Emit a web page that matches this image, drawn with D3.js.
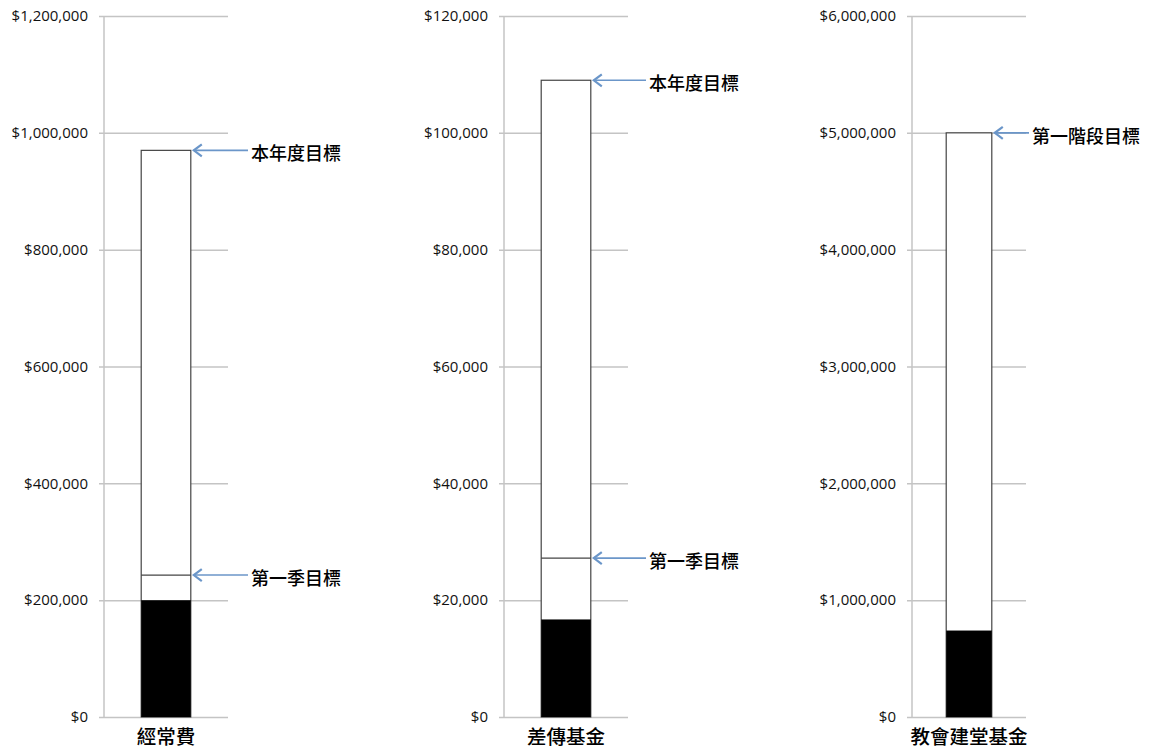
<!DOCTYPE html>
<html>
<head>
<meta charset="utf-8">
<script src="https://cdn.jsdelivr.net/npm/d3@7"></script>
<style>
  body { margin: 0; background: #fff; }
  svg { display: block; }
</style>
</head>
<body>
<svg id="chart"></svg>
<script>
// fundraising progress, one thermometer per fund
const categories = ["經常費", "差傳基金", "教會建堂基金"];
const raised = [200000, 16700, 740000];
const quarterGoal = [243000, 27200, null];
const yearGoal = [970000, 109000, 5000000];
const yearGoalLabels = ["本年度目標", "本年度目標", "第一階段目標"];
const quarterGoalLabel = "第一季目標";
const axisMax = [1200000, 120000, 6000000];

const width = 1149, height = 749;
const plotTop = 16, plotBottom = 717;
// layout of each small panel (axis x, plot width, gap from grid end to label)
const panels = [
  { x: 104, w: 124, labelGap: 23 },
  { x: 504, w: 124, labelGap: 21 },
  { x: 912, w: 114, labelGap: 6 }
];

const gridColor = "#c4c4c4";
const arrowColor = "#6b96c9";
const fmt = d3.format("$,.0f");

const svg = d3.select("#chart").attr("width", width).attr("height", height);

categories.forEach((cat, i) => {
  const p = panels[i];
  const g = svg.append("g").attr("transform", `translate(${p.x},0)`);

  const y = d3.scaleLinear().domain([0, axisMax[i]]).range([plotBottom, plotTop]);
  const x = d3.scaleBand().domain([cat]).range([0, p.w]).padding(0.4286);

  // axis + gridlines
  const axis = g.append("g")
    .call(d3.axisLeft(y).ticks(6).tickFormat(fmt).tickSize(5).tickSizeOuter(0).tickPadding(11));
  axis.select(".domain").remove();
  axis.selectAll(".tick line")
    .attr("x1", p.w)
    .attr("stroke", gridColor)
    .attr("stroke-width", 1.5);
  axis.selectAll(".tick text")
    .attr("fill", "#111")
    .style("font-family", "'Open Sans', sans-serif")
    .style("font-size", "15px");

  g.append("line")
    .attr("x1", 0).attr("x2", 0)
    .attr("y1", y(axisMax[i])).attr("y2", y(0))
    .attr("stroke", gridColor)
    .attr("stroke-width", 1.5);

  const bx = x(cat), bw = x.bandwidth();

  // goal outline
  g.append("rect")
    .attr("x", bx).attr("y", y(yearGoal[i]))
    .attr("width", bw).attr("height", y(0) - y(yearGoal[i]))
    .attr("fill", "#fff")
    .attr("stroke", "#444")
    .attr("stroke-width", 1.2);

  // amount raised
  g.append("rect")
    .attr("x", bx).attr("y", y(raised[i]))
    .attr("width", bw).attr("height", y(0) - y(raised[i]))
    .attr("fill", "#000");

  if (quarterGoal[i] != null) {
    g.append("line")
      .attr("x1", bx).attr("x2", bx + bw)
      .attr("y1", y(quarterGoal[i])).attr("y2", y(quarterGoal[i]))
      .attr("stroke", "#444")
      .attr("stroke-width", 1.2);
  }

  // arrows pointing to goals
  const labelX = p.w + p.labelGap;
  const marks = [{ v: yearGoal[i], label: yearGoalLabels[i] }];
  if (quarterGoal[i] != null) marks.push({ v: quarterGoal[i], label: quarterGoalLabel });

  marks.forEach(m => {
    const yy = y(m.v);
    const ax = bx + bw + 2;
    g.append("line")
      .attr("x1", ax + 1).attr("x2", labelX - 3)
      .attr("y1", yy).attr("y2", yy)
      .attr("stroke", arrowColor)
      .attr("stroke-width", 1.6);
    g.append("path")
      .attr("d", `M${ax + 9},${yy - 6}L${ax + 1},${yy}L${ax + 9},${yy + 6}`)
      .attr("fill", "none")
      .attr("stroke", arrowColor)
      .attr("stroke-width", 2.2);
    g.append("text")
      .attr("x", labelX)
      .attr("y", yy + 2)
      .attr("dominant-baseline", "central")
      .attr("fill", "#000")
      .style("font-family", "'Noto Sans CJK TC', sans-serif")
      .style("font-size", "18px")
      .style("font-weight", 500)
      .text(m.label);
  });

  // category name
  g.append("text")
    .attr("x", bx + bw / 2)
    .attr("y", 735)
    .attr("text-anchor", "middle")
    .attr("dominant-baseline", "central")
    .attr("fill", "#000")
    .style("font-family", "'Noto Sans CJK TC', sans-serif")
    .style("font-size", "19.5px")
    .style("font-weight", 500)
    .text(cat);
});
</script>
</body>
</html>
